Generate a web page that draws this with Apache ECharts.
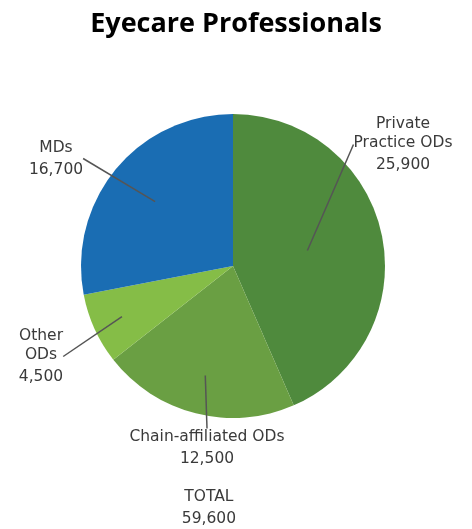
<!DOCTYPE html>
<html>
<head>
<meta charset="utf-8">
<script src="https://cdn.jsdelivr.net/npm/echarts@6/dist/echarts.min.js"></script>
<style>html,body{margin:0;padding:0;background:#fff;}#c{width:472px;height:529px;}</style>
</head>
<body>
<div id="c"></div>
<script>
var categories = ['Private Practice ODs', 'Chain-affiliated ODs', 'Other ODs', 'MDs'];
var labelNames = ['Private\nPractice ODs', 'Chain-affiliated ODs', 'Other\nODs', 'MDs'];
var values = [25900, 12500, 4500, 16700];
var colors = ['#4f8a3d', '#6a9f43', '#85bd47', '#1a6db3'];
var titleText = 'Eyecare Professionals';
var totalLabel = 'TOTAL';

var total = values.reduce(function (a, b) { return a + b; }, 0);
function fmt(v) { return v.toLocaleString('en-US'); }

// layout only: label block centres and leader-line inner radii
var labelPos = [[403, 146], [207, 449], [41, 358], [56, 160]];
var anchorR = [76, 113, 122, 101];
var CENTER = [233, 266];
var FONT = 'DejaVu Sans';

var mainData = categories.map(function (c, i) {
  return { name: c, value: values[i], itemStyle: { color: colors[i] } };
});

var series = [{
  type: 'pie',
  z: 2,
  center: CENTER,
  radius: [0, 152],
  startAngle: 90,
  clockwise: true,
  silent: true,
  label: { show: false },
  labelLine: { show: false },
  itemStyle: { borderWidth: 0 },
  emphasis: { disabled: true },
  data: mainData
}];

categories.forEach(function (cat, i) {
  series.push({
    type: 'pie',
    z: 3,
    center: CENTER,
    radius: [0, anchorR[i]],
    startAngle: 90,
    clockwise: true,
    silent: true,
    itemStyle: { color: 'rgba(0,0,0,0)', borderWidth: 0 },
    emphasis: { disabled: true },
    label: {
      show: true,
      position: 'outside',
      formatter: function (p) {
        var lines = labelNames[p.dataIndex].split('\n').map(function (s) { return '{n|' + s + '}'; });
        return lines.join('\n') + '\n{v|' + fmt(p.value) + '}';
      },
      rich: {
        n: { fontFamily: FONT, fontSize: 15.5, color: '#3a3a3a', lineHeight: 19, align: 'center' },
        v: { fontFamily: FONT, fontSize: 15.5, color: '#3a3a3a', lineHeight: 25, align: 'center' }
      }
    },
    labelLine: {
      show: true,
      length: 10,
      length2: 0,
      lineStyle: { color: '#555', width: 1.5 }
    },
    labelLayout: function (p) {
      var pos = labelPos[p.dataIndex];
      return { x: pos[0], y: pos[1], align: 'center', verticalAlign: 'middle' };
    },
    data: categories.map(function (c, j) {
      return {
        name: c, value: values[j],
        label: { show: j === i },
        labelLine: { show: j === i }
      };
    })
  });
});

var chart = echarts.init(document.getElementById('c'));
chart.setOption({
  animation: false,
  backgroundColor: '#fff',
  title: [{
    text: titleText,
    left: 'center',
    top: 6,
    textStyle: { fontFamily: 'Open Sans', fontWeight: 700, fontSize: 27, color: '#000' }
  }, {
    text: totalLabel + '\n' + fmt(total),
    left: 'center',
    top: 481,
    textAlign: 'center',
    textStyle: {
      fontFamily: FONT, fontWeight: 'normal', fontSize: 15.5, color: '#3a3a3a', lineHeight: 22, align: 'center'
    }
  }],
  series: series
});
</script>
</body>
</html>
